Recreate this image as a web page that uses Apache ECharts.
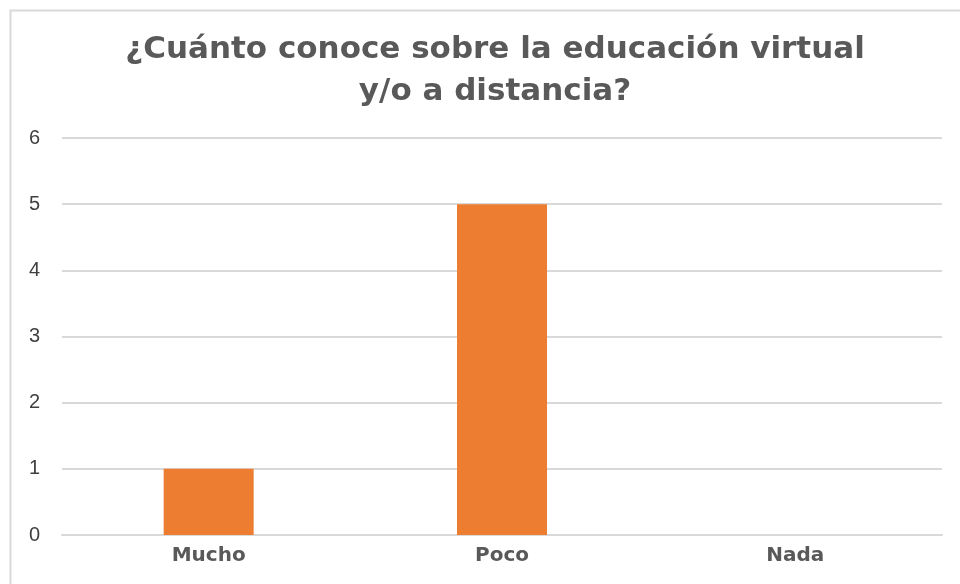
<!DOCTYPE html>
<html><head><meta charset="utf-8">
<script src="https://cdn.jsdelivr.net/npm/echarts@6/dist/echarts.min.js"></script>
<style>html,body{margin:0;padding:0;background:#fff}#c{width:960px;height:584px}</style>
</head><body><div id="c"></div>
<script>
const titleText = "¿Cuánto conoce sobre la educación virtual\ny/o a distancia?";
const categories = ["Mucho", "Poco", "Nada"];
const values = [1, 5, 0];
const yTicks = [0, 1, 2, 3, 4, 5, 6];

const chart = echarts.init(document.getElementById('c'));
chart.setOption({
  animation: false,
  graphic: [{type: 'rect', shape: {x: 10.5, y: 10.5, width: 960, height: 600}, style: {fill: 'none', stroke: '#d9d9d9', lineWidth: 2}, z: -1}],
  title: {
    text: titleText, left: 490, textAlign: 'center', top: 24,
    textStyle: {fontFamily: 'DejaVu Sans', fontWeight: 'bold', fontSize: 31, color: '#595959', lineHeight: 42}
  },
  grid: {left: 62, right: 18, top: 138, bottom: 49, containLabel: false},
  xAxis: {
    type: 'category', data: categories,
    axisLine: {show: true, lineStyle: {color: '#d9d9d9', width: 2}},
    axisTick: {show: false},
    axisLabel: {fontFamily: 'DejaVu Sans', fontWeight: 'bold', fontSize: 20, color: '#595959', margin: 11}
  },
  yAxis: {
    type: 'value', min: yTicks[0], max: yTicks[yTicks.length - 1], interval: 1,
    axisLine: {show: false}, axisTick: {show: false},
    axisLabel: {fontFamily: 'Liberation Sans', fontSize: 20, color: '#404040', margin: 22},
    splitLine: {lineStyle: {color: '#d9d9d9', width: 2}}
  },
  series: [{
    type: 'bar', data: values, barWidth: 90,
    itemStyle: {color: '#ED7D31'}
  }]
});
</script></body></html>
